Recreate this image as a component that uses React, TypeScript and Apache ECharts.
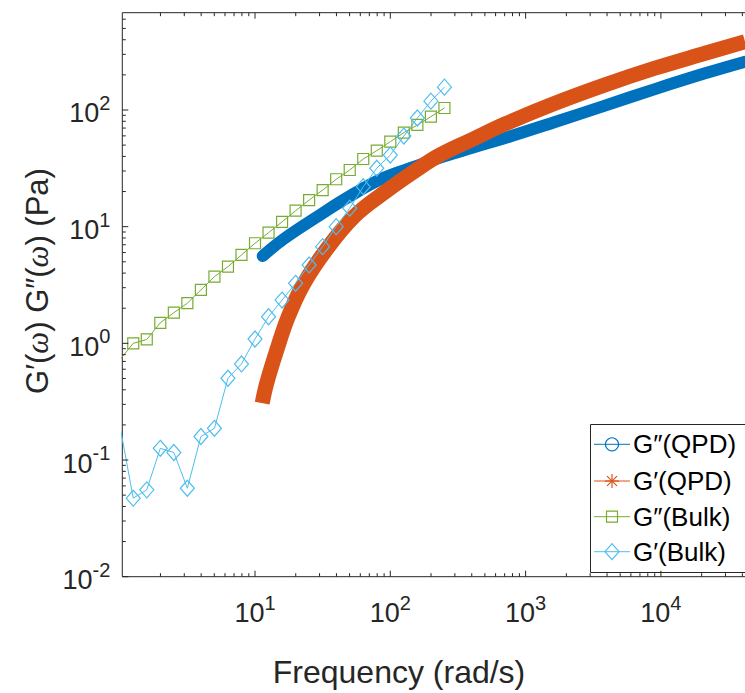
import React, { useEffect, useRef } from "react";
import * as echarts from "echarts";

// ---- data ----
const bulkFreq = [1, 1.259, 1.585, 1.995, 2.512, 3.162, 3.981, 5.012, 6.31, 7.943, 10, 12.59, 15.85, 19.95, 25.12, 31.62, 39.81, 50.12, 63.1, 79.43, 100, 125.9, 158.5, 199.5, 251.2];
const bulkGpp = [0.72, 1.0, 1.08, 1.5, 1.83, 2.21, 2.87, 3.73, 4.54, 5.72, 7.21, 8.88, 11.0, 13.7, 16.9, 20.6, 25.5, 30.6, 38.0, 44.8, 53.5, 63.9, 74.4, 87.6, 104];
const bulkGp = [0.2, 0.0471, 0.0555, 0.126, 0.116, 0.0573, 0.159, 0.187, 0.502, 0.666, 1.09, 1.69, 2.35, 3.27, 4.7, 6.74, 10.0, 14.4, 22.0, 31.7, 41.1, 59.8, 85.4, 119, 157];

const qpdFreqGpp = [11.4, 16.2, 28.6, 50.4, 88.8, 157, 246, 409, 705, 1650, 3860, 9040, 21200, 41900];
const qpdGpp = [5.61, 7.8, 12.1, 18.3, 26.1, 33.1, 39.9, 47.7, 57.5, 78.9, 109, 151, 206, 259];

const qpdFreqGp = [11.3, 12.2, 14.5, 17.6, 23.0, 33.5, 53.9, 91.4, 148, 233, 411, 705, 1650, 3860, 9040, 21200, 41900];
const qpdGp = [0.307, 0.455, 0.878, 1.69, 3.27, 6.31, 12.2, 19.8, 29.4, 41.2, 56.4, 75.9, 114, 164, 228, 306, 385];

const seriesNames = ["G\u2033(QPD)", "G\u2032(QPD)", "G\u2033(Bulk)", "G\u2032(Bulk)"];

const xMin = 1.045;
const xMax = 1e5;
const yMin = 0.01;
const yMax = 682;
const xDecades = [1, 10, 100, 1000, 10000];
const yDecades = [0.01, 0.1, 1, 10, 100];
const minorMult = [2, 3, 4, 5, 6, 7, 8, 9];

const BLUE = "#0072BD";
const ORANGE = "#D95319";
const GREEN = "#77AC30";
const CYAN = "#4DBEEE";
const INK = "#262626";
const FONT = "'Liberation Sans', Arial, Helvetica, sans-serif";

const zip = (a: number[], b: number[]) => a.map((v, i) => [v, b[i]]);

function buildTicks(decades: number[], lo: number, hi: number) {
  const out: number[][] = [];
  decades.forEach((d) => {
    if (d >= lo && d <= hi) out.push([d, 1]);
    minorMult.forEach((m) => {
      const v = d * m;
      if (v >= lo && v <= hi) out.push([v, 0]);
    });
  });
  return out;
}

const labelFmt = (v: number) => {
  const e = Math.log10(v);
  const r = Math.round(e);
  if (Math.abs(e - r) > 1e-6) return "";
  return `{b|10}{s|${r}}`;
};

const labelRich = {
  b: { fontSize: 27, fontFamily: FONT, color: INK, lineHeight: 34, verticalAlign: "bottom" },
  s: { fontSize: 20, fontFamily: FONT, color: INK, lineHeight: 34, verticalAlign: "top" },
};

export default function App() {
  const ref = useRef<HTMLDivElement>(null);
  useEffect(() => {
    const chart = echarts.init(ref.current!, undefined, { renderer: "svg" });
    const xTicks = buildTicks(xDecades, xMin, xMax).map((t) => [t[0], yMin, t[1]]);
    const yTicks = buildTicks(yDecades, yMin, yMax).map((t) => [xMin, t[0], t[1]]);

    const tickLine = (x1: number, y1: number, x2: number, y2: number) => ({
      type: "line",
      shape: { x1, y1, x2, y2 },
      style: { stroke: INK, lineWidth: 1 },
    });

    const legendRows = [444.3, 481, 516.7, 551.7];
    const lx0 = 594, lx1 = 630, lm = 612, ltx = 633;
    const legendText = (i: number) => ({
      type: "text",
      x: ltx,
      y: legendRows[i],
      style: { text: seriesNames[i], fontSize: 26, fontFamily: FONT, fill: "#000", align: "left", verticalAlign: "middle" },
    });
    const legendLine = (i: number, c: string) => ({
      type: "line",
      shape: { x1: lx0, y1: legendRows[i], x2: lx1, y2: legendRows[i] },
      style: { stroke: c, lineWidth: 1 },
    });
    const star = (cx: number, cy: number, r: number, c: string) => {
      const d = r * 0.7071;
      return [
        { type: "line", shape: { x1: cx - r, y1: cy, x2: cx + r, y2: cy }, style: { stroke: c, lineWidth: 1.2 } },
        { type: "line", shape: { x1: cx, y1: cy - r, x2: cx, y2: cy + r }, style: { stroke: c, lineWidth: 1.2 } },
        { type: "line", shape: { x1: cx - d, y1: cy - d, x2: cx + d, y2: cy + d }, style: { stroke: c, lineWidth: 1.2 } },
        { type: "line", shape: { x1: cx - d, y1: cy + d, x2: cx + d, y2: cy - d }, style: { stroke: c, lineWidth: 1.2 } },
      ];
    };

    const option: any = {
      animation: false,
      backgroundColor: "#fff",
      grid: {
        left: 122.3,
        top: 12.7,
        right: 800 - 796.2,
        bottom: 693 - 576.7,
        show: true,
        borderColor: INK,
        borderWidth: 1,
        backgroundColor: "transparent",
      },
      xAxis: {
        type: "log",
        logBase: 10,
        min: xMin,
        max: xMax,
        axisLine: { show: false },
        axisTick: { show: false },
        splitLine: { show: false },
        axisLabel: { formatter: labelFmt, rich: labelRich, margin: 16, showMinLabel: false, showMaxLabel: false },
      },
      yAxis: {
        type: "log",
        logBase: 10,
        min: yMin,
        max: yMax,
        axisLine: { show: false },
        axisTick: { show: false },
        splitLine: { show: false },
        axisLabel: { formatter: labelFmt, rich: labelRich, margin: 12, showMaxLabel: false },
      },
      series: [
        {
          name: seriesNames[0],
          type: "line",
          data: zip(qpdFreqGpp, qpdGpp),
          showSymbol: false,
          smooth: 0.4,
          lineStyle: { color: BLUE, width: 12, cap: "round", join: "round" },
          itemStyle: { color: BLUE },
          z: 2,
        },
        {
          name: seriesNames[1],
          type: "line",
          data: zip(qpdFreqGp, qpdGp),
          showSymbol: false,
          smooth: 0.4,
          lineStyle: { color: ORANGE, width: 15, cap: "butt", join: "round" },
          itemStyle: { color: ORANGE },
          z: 2,
        },
        {
          name: seriesNames[2],
          type: "line",
          data: zip(bulkFreq, bulkGpp),
          symbol: "rect",
          symbolSize: 11,
          showAllSymbol: true,
          itemStyle: { color: "rgba(0,0,0,0)", borderColor: GREEN, borderWidth: 1.2 },
          lineStyle: { color: GREEN, width: 1 },
          z: 2,
        },
        {
          name: seriesNames[3],
          type: "line",
          data: zip(bulkFreq, bulkGp),
          symbol: "diamond",
          symbolSize: [14, 16],
          showAllSymbol: true,
          itemStyle: { color: "rgba(0,0,0,0)", borderColor: CYAN, borderWidth: 1.2 },
          lineStyle: { color: CYAN, width: 1 },
          z: 2,
        },
        {
          type: "custom",
          silent: true,
          clip: false,
          data: xTicks,
          encode: { x: 0, y: 1 },
          z: 5,
          renderItem: (params: any, api: any) => {
            const p = api.coord([api.value(0), yMin]);
            const cs = params.coordSys;
            const len = api.value(2) ? 6 : 3.5;
            const bottom = cs.y + cs.height;
            return {
              type: "group",
              children: [tickLine(p[0], bottom, p[0], bottom - len), tickLine(p[0], cs.y, p[0], cs.y + len)],
            };
          },
        },
        {
          type: "custom",
          silent: true,
          clip: false,
          data: yTicks,
          encode: { x: 0, y: 1 },
          z: 5,
          renderItem: (params: any, api: any) => {
            const p = api.coord([xMin, api.value(1)]);
            const cs = params.coordSys;
            const len = api.value(2) ? 6 : 3.5;
            const right = cs.x + cs.width;
            return {
              type: "group",
              children: [tickLine(cs.x, p[1], cs.x + len, p[1]), tickLine(right, p[1], right - len, p[1])],
            };
          },
        },
      ],
      graphic: [
        {
          type: "text",
          x: 399,
          y: 672,
          style: { text: "Frequency (rad/s)", fontSize: 32, fontFamily: FONT, fill: INK, align: "center", verticalAlign: "middle" },
        },
        {
          type: "text",
          x: 37,
          y: 281,
          rotation: Math.PI / 2,
          style: {
            text: "{n|G\u2032(}{i|\u03c9}{n|) G\u2033(}{i|\u03c9}{n|) (Pa)}",
            align: "center",
            verticalAlign: "middle",
            rich: {
              n: { fontSize: 31, fontFamily: FONT, fill: INK },
              i: { fontSize: 31, fontFamily: "'Liberation Serif', 'DejaVu Serif', serif", fontStyle: "italic", fill: INK },
            },
          },
        },
        {
          type: "group",
          z: 100,
          children: [
            { type: "rect", shape: { x: 590.5, y: 424.5, width: 162, height: 148 }, style: { fill: "#fff", stroke: INK, lineWidth: 1 } },
            legendLine(0, BLUE),
            { type: "circle", shape: { cx: lm, cy: legendRows[0], r: 6.5 }, style: { fill: "none", stroke: BLUE, lineWidth: 1.2 } },
            legendText(0),
            legendLine(1, ORANGE),
            ...star(lm, legendRows[1], 7, ORANGE),
            legendText(1),
            legendLine(2, GREEN),
            { type: "rect", shape: { x: lm - 5.5, y: legendRows[2] - 5.5, width: 11, height: 11 }, style: { fill: "none", stroke: GREEN, lineWidth: 1.2 } },
            legendText(2),
            legendLine(3, CYAN),
            {
              type: "polygon",
              shape: { points: [[lm, legendRows[3] - 8], [lm + 7, legendRows[3]], [lm, legendRows[3] + 8], [lm - 7, legendRows[3]]] },
              style: { fill: "none", stroke: CYAN, lineWidth: 1.2 },
            },
            legendText(3),
          ],
        },
      ],
    };
    chart.setOption(option);
    return () => chart.dispose();
  }, []);
  return (
    <div style={{ position: "fixed", left: 0, top: 0, width: 745, height: 693, overflow: "hidden", background: "#fff" }}>
      <div ref={ref} style={{ width: 800, height: 693 }} />
    </div>
  );
}
